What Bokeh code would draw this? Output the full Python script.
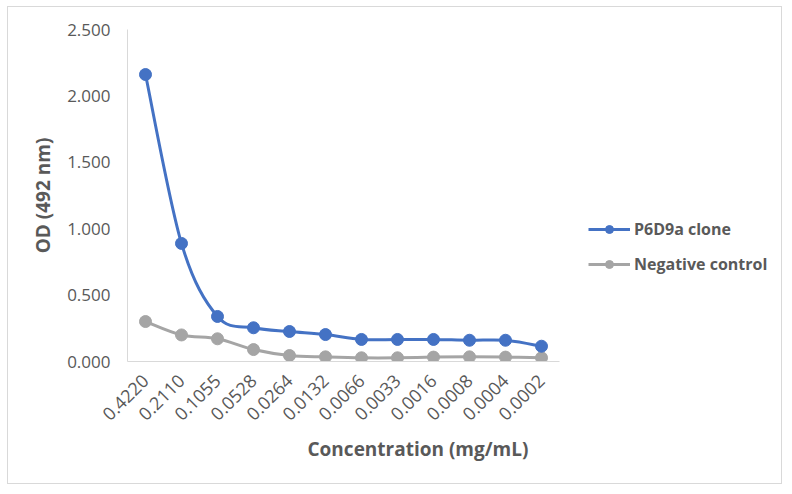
import numpy as np
from math import pi
from bokeh.plotting import figure
from bokeh.models import (Range1d, FixedTicker, NumeralTickFormatter, Legend,
                          LegendItem, Title, ColumnDataSource)
from bokeh.embed import file_html
from bokeh.resources import INLINE

# ---- data ----
concentrations = ["0.4220", "0.2110", "0.1055", "0.0528", "0.0264", "0.0132",
                  "0.0066", "0.0033", "0.0016", "0.0008", "0.0004", "0.0002"]
p6d9a_clone = [2.161, 0.889, 0.339, 0.254, 0.226, 0.203,
               0.166, 0.166, 0.166, 0.160, 0.160, 0.115]
negative_control = [0.301, 0.200, 0.171, 0.090, 0.045, 0.035,
                    0.028, 0.028, 0.033, 0.035, 0.033, 0.028]
y_ticks = [0.0, 0.5, 1.0, 1.5, 2.0, 2.5]

BLUE = "#4472C4"
GRAY = "#A5A5A5"
TEXT = "#595959"
AXIS = "#D9D9D9"
FONT = "Open Sans"

x_idx = list(range(len(concentrations)))


def smooth_source(xs, ys, t=1.0 / 6.0):
    """Bezier control points (Catmull-Rom style, like a spreadsheet smoothed line)."""
    n = len(xs)
    d = dict(x0=[], y0=[], x1=[], y1=[], cx0=[], cy0=[], cx1=[], cy1=[])
    for i in range(n - 1):
        a = i - 1 if i > 0 else i
        b = i + 2 if i + 2 < n else i + 1
        d["x0"].append(xs[i]); d["y0"].append(ys[i])
        d["x1"].append(xs[i + 1]); d["y1"].append(ys[i + 1])
        d["cx0"].append(xs[i] + (xs[i + 1] - xs[a]) * t)
        d["cy0"].append(ys[i] + (ys[i + 1] - ys[a]) * t)
        d["cx1"].append(xs[i + 1] - (xs[b] - xs[i]) * t)
        d["cy1"].append(ys[i + 1] - (ys[b] - ys[i]) * t)
    return ColumnDataSource(d)


# frame extends to the right so the legend sits inside it (36 px per category)
p = figure(width=775, height=478, output_backend="svg", toolbar_location=None,
           x_range=Range1d(-0.5, 17.5), y_range=Range1d(0, 2.5),
           min_border_left=119, min_border_right=8, min_border_top=22,
           min_border_bottom=124)
p.styles = {"border": "1px solid #D9D9D9", "margin-left": "7px", "margin-top": "6px"}
p.outline_line_color = None
p.xgrid.grid_line_color = None
p.ygrid.grid_line_color = None

# axes
p.yaxis.ticker = FixedTicker(ticks=y_ticks)
p.yaxis.formatter = NumeralTickFormatter(format="0.000")
p.yaxis.axis_line_color = AXIS
p.yaxis.major_tick_line_color = None
p.yaxis.minor_tick_line_color = None
p.yaxis.major_label_text_font = FONT
p.yaxis.major_label_text_font_size = "17px"
p.yaxis.major_label_text_color = TEXT
p.yaxis.major_label_standoff = 11
p.yaxis.axis_label = "OD (492 nm)"
p.yaxis.axis_label_text_font = FONT
p.yaxis.axis_label_text_font_style = "bold"
p.yaxis.axis_label_text_font_size = "19px"
p.yaxis.axis_label_text_color = TEXT
p.yaxis.axis_label_standoff = 8

p.xaxis.ticker = FixedTicker(ticks=x_idx)
p.xaxis.bounds = (-0.5, 11.5)
p.xaxis.major_label_overrides = {i: c for i, c in zip(x_idx, concentrations)}
p.xaxis.major_label_orientation = pi / 4
p.xaxis.axis_line_color = AXIS
p.xaxis.major_tick_line_color = None
p.xaxis.minor_tick_line_color = None
p.xaxis.major_label_text_font = FONT
p.xaxis.major_label_text_font_size = "18px"
p.xaxis.major_label_text_color = TEXT
p.xaxis.major_label_standoff = 10

# series
b_neg = p.bezier(x0="x0", y0="y0", x1="x1", y1="y1", cx0="cx0", cy0="cy0", cx1="cx1", cy1="cy1",
                 source=smooth_source(x_idx, negative_control), line_color=GRAY, line_width=3)
s_neg = p.scatter(x_idx, negative_control, size=12, fill_color=GRAY, line_color=GRAY)
b_blue = p.bezier(x0="x0", y0="y0", x1="x1", y1="y1", cx0="cx0", cy0="cy0", cx1="cx1", cy1="cy1",
                  source=smooth_source(x_idx, p6d9a_clone), line_color=BLUE, line_width=3)
s_blue = p.scatter(x_idx, p6d9a_clone, size=12, fill_color=BLUE, line_color=BLUE)

legend = Legend(items=[LegendItem(label="P6D9a clone", renderers=[b_blue, s_blue]),
                       LegendItem(label="Negative control", renderers=[b_neg, s_neg])],
                location=(461, 86), padding=0, margin=0, spacing=13,
                glyph_width=42, glyph_height=20, label_height=20, label_standoff=4,
                border_line_color=None, background_fill_alpha=0,
                label_text_font=FONT, label_text_font_style="bold",
                label_text_font_size="16px", label_text_color=TEXT)
p.add_layout(legend)

p.add_layout(Title(text="Concentration (mg/mL)", align="left", offset=180, standoff=9,
                   text_font=FONT, text_font_style="bold", text_font_size="19px",
                   text_color=TEXT), "below")

open("out.html", "w").write(file_html(p, INLINE))
